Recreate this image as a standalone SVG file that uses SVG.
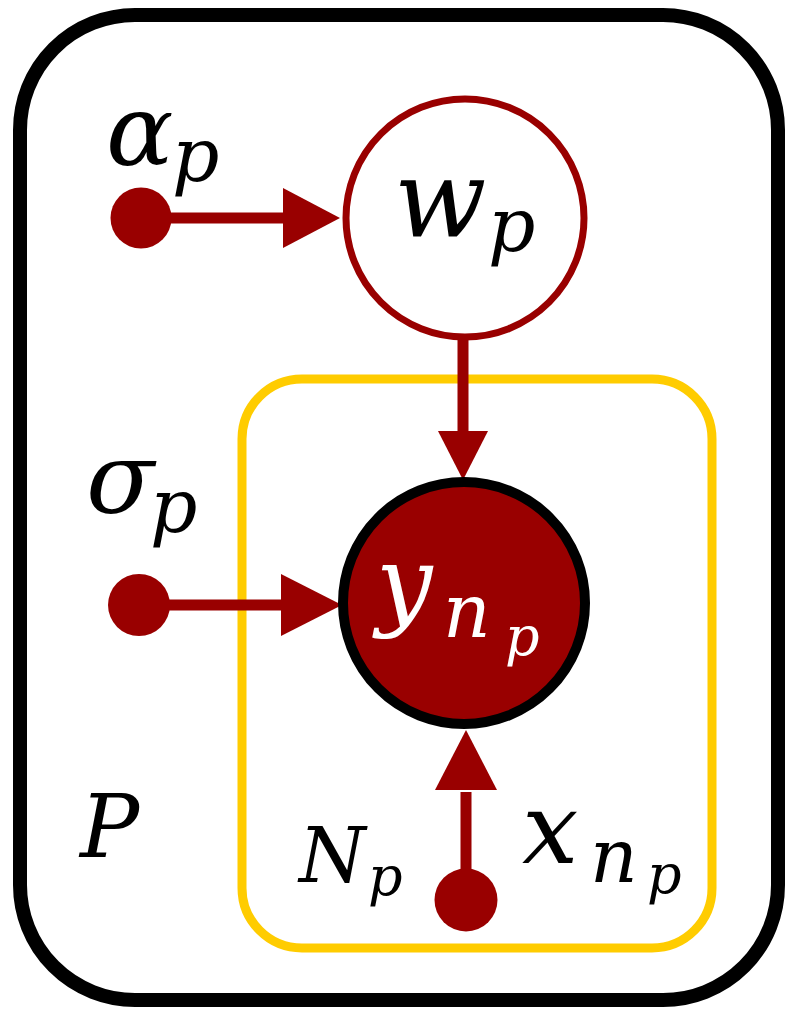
<svg xmlns="http://www.w3.org/2000/svg" width="791" height="1016" viewBox="0 0 791 1016">
<style>
text{font-family:'DejaVu Serif','Liberation Serif',serif;font-style:italic;fill:#000}
.w{fill:#fff}
.edge{stroke:#990000;stroke-width:11;fill:none}
.head{fill:#990000}
.dot{fill:#990000}
</style>
<rect width="791" height="1016" fill="#fff"/>
<g id="plate-P">
<rect x="20" y="15" width="758" height="985" rx="115" fill="none" stroke="#000" stroke-width="14"/>
<text x="80" y="857" font-size="88">P</text>
</g>
<g id="plate-Np">
<rect x="242" y="379" width="470" height="569" rx="60" fill="none" stroke="#FFCC00" stroke-width="9"/>
<text x="299" y="882" font-size="76">N</text>
<text x="368" y="895" font-size="54">p</text>
</g>
<g id="connectors">
<line class="edge" x1="141" y1="218" x2="285" y2="218"/>
<polygon class="head" points="283,188 340,218 283,248"/>
<line class="edge" x1="463" y1="340" x2="463" y2="433"/>
<polygon class="head" points="438,431 488,431 463,480"/>
<line class="edge" x1="139" y1="605" x2="283" y2="605"/>
<polygon class="head" points="281,574 342,605 281,636"/>
<line class="edge" x1="466" y1="900" x2="466" y2="792"/>
<polygon class="head" points="435,790 497,790 466,730"/>
</g>
<g id="alpha">
<circle class="dot" cx="141" cy="218" r="30.5"/>
<text x="106" y="165" font-size="100">α</text>
<text x="172" y="181" font-size="74">p</text>
</g>
<g id="w">
<circle cx="465" cy="218" r="119" fill="#fff" stroke="#990000" stroke-width="7"/>
<text x="394" y="237" font-size="108">w</text>
<text x="488" y="251" font-size="74">p</text>
</g>
<g id="sigma">
<circle class="dot" cx="139" cy="605" r="31"/>
<text x="86" y="513" font-size="100">σ</text>
<text x="150" y="532" font-size="74">p</text>
</g>
<g id="y">
<circle cx="464" cy="603" r="121" fill="#990000" stroke="#000" stroke-width="10"/>
<text class="w" x="376" y="617" font-size="100">y</text>
<text class="w" x="443" y="637" font-size="74">n</text>
<text class="w" x="505" y="655" font-size="54">p</text>
</g>
<g id="x">
<circle class="dot" cx="466" cy="900" r="31.5"/>
<text x="522" y="863" font-size="100">x</text>
<text x="590" y="882" font-size="74">n</text>
<text x="647" y="893" font-size="54">p</text>
</g>
</svg>
